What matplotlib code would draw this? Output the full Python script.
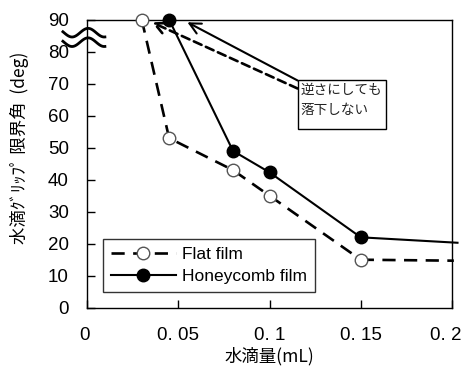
import matplotlib
matplotlib.use('Agg')
import matplotlib.pyplot as plt
import matplotlib.transforms as mtransforms
from matplotlib.patches import Rectangle
import numpy as np

# データ
flat_x = [0.03, 0.045, 0.08, 0.1, 0.15]
flat_y = [90, 53, 43, 35, 15]
flat_tail_x = [0.15, 0.201]
flat_tail_y = [15, 14.7]

honey_x = [0.045, 0.08, 0.1, 0.15]
honey_y = [90, 49, 42.3, 22]
honey_tail_x = [0.15, 0.203]
honey_tail_y = [22, 20.3]

xticks = [0, 0.05, 0.1, 0.15, 0.2]
xtick_labels = ['0', '0. 05', '0. 1', '0. 15', '0. 2']
yticks = list(range(0, 100, 10))

num_font = ['Liberation Sans', 'DejaVu Sans']
jp_font = ['Noto Sans CJK JP', 'DejaVu Sans']

fig = plt.figure(figsize=(4.66, 3.72), dpi=100)
ax = fig.add_axes([0.1867, 0.1728, 0.7833, 0.7742])

dash = (0, (5, 3.2))
ax.plot(flat_x, flat_y, color='black', lw=1.9, linestyle=dash, marker='o',
        markersize=9, markerfacecolor='white', markeredgecolor='#555555',
        markeredgewidth=1.0, clip_on=False, zorder=3, label='Flat film')
ax.plot(flat_tail_x, flat_tail_y, color='black', lw=1.9, linestyle=dash,
        clip_on=False, zorder=2)
ax.plot(honey_x, honey_y, color='black', lw=1.5, marker='o', markersize=9,
        markerfacecolor='black', markeredgecolor='black', clip_on=False,
        zorder=3, label='Honeycomb film')
ax.plot(honey_tail_x, honey_tail_y, color='black', lw=1.5, clip_on=False,
        zorder=2)

ax.set_xlim(0, 0.2)
ax.set_ylim(0, 90)
ax.set_xticks(xticks)
ax.set_xticklabels(xtick_labels, family=num_font, fontsize=13.5)
ax.set_yticks(yticks)
ax.set_yticklabels([str(v) for v in yticks], family=num_font, fontsize=13.5)
ax.tick_params(direction='in', length=6, width=1, top=False, right=False)
ax.tick_params(axis='x', pad=14)
ax.tick_params(axis='y', pad=13)
for s in ax.spines.values():
    s.set_linewidth(1.0)

# 端のラベルを少し左へ
last = ax.get_xticklabels()[-1]
last.set_transform(last.get_transform() +
                   mtransforms.ScaledTranslation(-6 / 100, 0, fig.dpi_scale_trans))
first = ax.get_xticklabels()[0]
first.set_transform(first.get_transform() +
                    mtransforms.ScaledTranslation(-3 / 100, 0, fig.dpi_scale_trans))

ax.set_xlabel('水滴量(mL)', family=jp_font, fontsize=12.5)
ax.xaxis.set_label_coords(0.5, -0.135)
ax.set_ylabel('水滴ｸﾞﾘｯﾌﾟ 限界角  (deg)', family=jp_font, fontsize=12.5)
ax.yaxis.set_label_coords(-0.16, 0.555)

# 注記ボックス
ax.add_patch(Rectangle((0.1154, 55.8), 0.0483, 15.4, fill=True,
                       facecolor='white', edgecolor='black', lw=1.0,
                       zorder=4))
ax.text(0.117, 70.2, '逆さにしても\n落下しない', family=jp_font, fontsize=9.8,
        va='top', ha='left', linespacing=1.5, zorder=5, color='#222222')
ax.annotate('', xy=(0.055, 89.2), xytext=(0.1154, 71.0),
            arrowprops=dict(arrowstyle='->,head_length=0.8,head_width=0.4',
                            color='black', lw=1.5, shrinkA=0, shrinkB=0),
            zorder=3)
ax.annotate('', xy=(0.0355, 89.2), xytext=(0.1154, 68.5),
            arrowprops=dict(arrowstyle='->,head_length=0.8,head_width=0.4',
                            color='black', lw=1.9, linestyle=(0, (3.2, 1.8)),
                            shrinkA=0, shrinkB=0),
            zorder=3)

# 軸の省略記号
tr = ax.transAxes
bx = np.linspace(-0.066, 0.049, 80)
wave = 0.015 * np.cos(2 * np.pi * (bx - 0.003) / 0.088)
for y0 in (0.955, 0.922):
    ax.plot(bx, y0 + wave, color='black', lw=2.0,
            transform=tr, clip_on=False, zorder=6)

leg = ax.legend(loc='lower left', bbox_to_anchor=(0.043, 0.055),
                prop={'family': num_font, 'size': 12.5}, frameon=True,
                fancybox=False, edgecolor='black', handlelength=3.8,
                borderpad=0.45, labelspacing=0.4, handletextpad=0.3,
                borderaxespad=0)
leg.get_frame().set_linewidth(1.0)

fig.savefig('out.png', dpi=100)
